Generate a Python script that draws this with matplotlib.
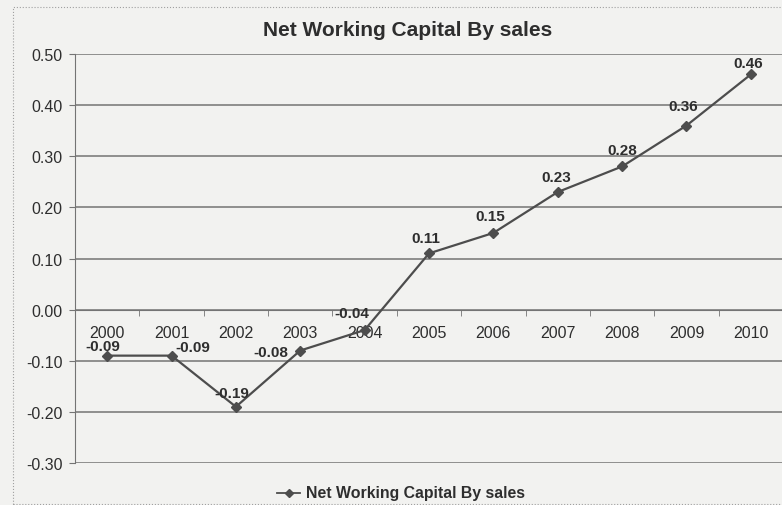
import matplotlib
matplotlib.use("Agg")
import matplotlib.pyplot as plt
from matplotlib.lines import Line2D
from matplotlib.patches import Rectangle

plt.rcParams["font.family"] = ["Liberation Sans", "DejaVu Sans"]

years = ["2000", "2001", "2002", "2003", "2004", "2005",
         "2006", "2007", "2008", "2009", "2010"]
nwc_by_sales = [-0.09, -0.09, -0.19, -0.08, -0.04, 0.11,
                0.15, 0.23, 0.28, 0.36, 0.46]
y_ticks = [-0.30, -0.20, -0.10, 0.00, 0.10, 0.20, 0.30, 0.40, 0.50]

# where each data label sits relative to its point (points)
label_offsets = [(-3, 7), (15, 6), (-3, 10), (-21, -1), (-9, 12), (-2, 11),
                 (-2, 12), (-1, 11), (0, 12), (-2, 14), (-2, 8)]

BG = "#f2f2f0"
LINE = "#4d4d4d"
GRID = "#747474"
TEXT = "#2e2e2e"

fig = plt.figure(figsize=(7.82, 5.06), dpi=100, facecolor=BG)
ax = fig.add_axes([75 / 782, 1 - 464 / 506, 708 / 782, 409 / 506])
ax.set_facecolor(BG)

x = list(range(len(years)))
ax.plot(x, nwc_by_sales, color=LINE, linewidth=1.6, marker="D",
        markersize=5, markerfacecolor=LINE, markeredgecolor=LINE, zorder=3)

for xi, v, (dx, dy) in zip(x, nwc_by_sales, label_offsets):
    ax.annotate(f"{v:.2f}", (xi, v), xytext=(dx, dy), textcoords="offset points",
                ha="center", va="center", fontsize=11, fontweight="bold",
                color=TEXT, zorder=4)

ax.set_xlim(-0.5, len(years) - 0.5)
ax.set_ylim(-0.30, 0.50)
ax.set_yticks(y_ticks)
ax.set_yticklabels([f"{t:.2f}" for t in y_ticks])
ax.yaxis.grid(True, color=GRID, linewidth=1.1)
ax.set_axisbelow(True)

# category axis crosses at zero, ticks sit between the years
ax.spines["bottom"].set_position(("data", 0))
ax.spines["bottom"].set_color(GRID)
ax.spines["left"].set_color(GRID)
ax.spines["top"].set_visible(False)
ax.spines["right"].set_visible(False)
ax.set_xticks(x)
ax.set_xticklabels(years)
ax.set_xticks([i + 0.5 for i in x[:-1]], minor=True)
ax.tick_params(axis="x", which="major", length=0, pad=11, labelsize=11.5, colors=TEXT)
ax.tick_params(axis="x", which="minor", length=4, direction="out", color=GRID)
ax.tick_params(axis="y", length=4, color=GRID, labelsize=11.5, labelcolor=TEXT, pad=5)

fig.text(408 / 782, 1 - 31 / 506, "Net Working Capital By sales", ha="center",
         va="center", fontsize=15, fontweight="bold", color=TEXT)

# legend drawn by hand below the plot
fig.add_artist(Line2D([277 / 782, 300 / 782], [1 - 494 / 506] * 2, color=LINE,
                      linewidth=1.3))
fig.add_artist(Line2D([288.5 / 782], [1 - 494 / 506], marker="D", markersize=4,
                      color=LINE, linestyle="none"))
fig.text(306 / 782, 1 - 494 / 506, "Net Working Capital By sales", ha="left",
         va="center", fontsize=11.4, fontweight="bold", color=TEXT)

# chart area border
fig.add_artist(Rectangle((13 / 782, 1 - 505 / 506), 780 / 782, 497 / 506,
                         transform=fig.transFigure, fill=False,
                         edgecolor="#a0a0a0", linewidth=0.8, linestyle=":"))

fig.savefig("out.png", dpi=100, facecolor=BG)
